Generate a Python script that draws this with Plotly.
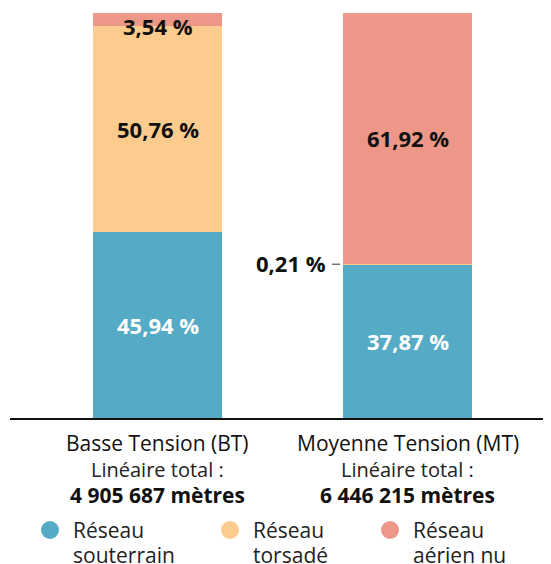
import plotly.graph_objects as go

categories = ["Basse Tension (BT)", "Moyenne Tension (MT)"]
totals = ["4 905 687 mètres", "6 446 215 mètres"]
legend_line1 = ["Réseau", "Réseau", "Réseau"]
legend_line2 = ["souterrain", "torsadé", "aérien nu"]
souterrain = [45.94, 37.87]
torsade = [50.76, 0.21]
aerien = [3.54, 61.92]
colors = ["#55ABC6", "#FCCB8E", "#EC9787"]
label_colors = ["white", "#111111", "#111111"]

FONT = "Open Sans"
xs = [0, 1]
series = [souterrain, torsade, aerien]

# page is rendered with an 8px body margin; figure is sized to fit
W, H = 543, 556
PX0, PY0 = 8, 8           # page offset of figure
PL, PR = 10, 551          # plot x extent (page px)
PT, PB = 13, 418          # plot y extent (page px)

def px(xp):
    return (xp - PL) / (PR - PL)

def py(yp):
    return (PB - yp) / (PB - PT)

fig = go.Figure()
for vals, col, name in zip(series, colors, legend_line2):
    fig.add_trace(go.Bar(x=xs, y=vals, marker=dict(color=col, line=dict(width=0)),
                         width=0.516, name=name, showlegend=False, hoverinfo="skip"))

def fmt(v):
    return f"{v:.2f}".replace(".", ",") + " %"

# segment labels
for i in range(2):
    base = 0.0
    for s, vals in enumerate(series):
        v = vals[i]
        mid = base + v / 2
        base += v
        if v < 1:
            fig.add_annotation(x=i - 0.258, y=mid, xref="x", yref="y", text=f"<b>{fmt(v)}</b>",
                               showarrow=False, xanchor="right", xshift=-15, yshift=1,
                               font=dict(family=FONT, size=22, color="#111111"))
            fig.add_shape(type="line", xref="x", yref="y", x0=i - 0.258 - 0.044, x1=i - 0.258 - 0.012,
                          y0=mid, y1=mid, line=dict(color="#333333", width=1))
        else:
            ys = -7 if v < 5 else 0
            fig.add_annotation(x=i, y=mid, xref="x", yref="y", text=f"<b>{fmt(v)}</b>",
                               showarrow=False, yshift=ys,
                               font=dict(family=FONT, size=22, color=label_colors[s]))

# category labels
for i in range(2):
    fig.add_annotation(x=i, y=0, xref="x", yref="paper", yanchor="middle", yshift=-25,
                       text=categories[i], showarrow=False,
                       font=dict(family=FONT, size=21, color="#111111"))
    fig.add_annotation(x=i, y=0, xref="x", yref="paper", yanchor="middle", yshift=-51,
                       text="Linéaire total :", showarrow=False,
                       font=dict(family=FONT, size=20, color="#222222"))
    fig.add_annotation(x=i, y=0, xref="x", yref="paper", yanchor="middle", yshift=-77,
                       text=f"<b>{totals[i]}</b>", showarrow=False,
                       font=dict(family=FONT, size=21, color="#111111"))

# legend
leg_x = [50, 230, 390]
for cx, col, l1, l2 in zip(leg_x, colors, legend_line1, legend_line2):
    r = 9
    fig.add_shape(type="circle", xref="paper", yref="paper",
                  x0=px(cx - r), x1=px(cx + r), y0=py(530 + r), y1=py(530 - r),
                  fillcolor=col, line=dict(width=0))
    for k, t in enumerate([l1, l2]):
        fig.add_annotation(x=px(cx + 21), y=py(530 + 25 * k),
                           xref="paper", yref="paper", xanchor="left", yanchor="middle", align="left",
                           text=t, showarrow=False,
                           font=dict(family=FONT, size=21, color="#222222"))

fig.update_layout(
    width=W, height=H, barmode="stack",
    margin=dict(l=PL - PX0, r=W - (PR - PX0), t=PT - PY0, b=H - (PB - PY0)),
    plot_bgcolor="white", paper_bgcolor="white",
    xaxis=dict(range=[-0.59, 1.574], showticklabels=False, showgrid=False, zeroline=False,
               showline=True, linecolor="#111111", linewidth=1.5, fixedrange=True),
    yaxis=dict(range=[0, 100], visible=False, fixedrange=True),
    bargap=0,
)
fig.write_html("out.html")
